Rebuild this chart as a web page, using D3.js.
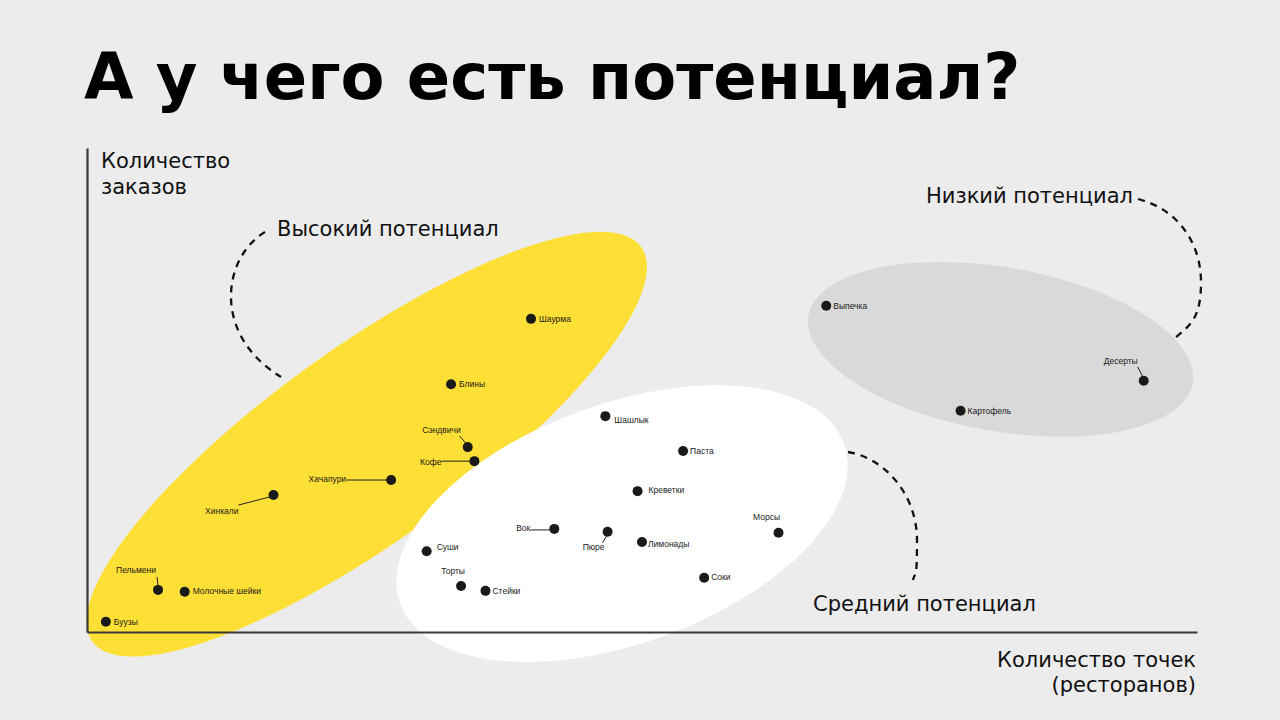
<!DOCTYPE html>
<html><head><meta charset="utf-8">
<script src="https://cdn.jsdelivr.net/npm/d3@7"></script>
<style>
html,body{margin:0;padding:0;background:#ececec;}
svg{display:block;}
</style></head>
<body>
<svg id="chart" width="1280" height="720"></svg>
<script>
// ---- data ----
const items = ["Буузы","Пельмени","Молочные шейки","Хинкали","Хачапури","Кофе","Сэндвичи","Блины","Шаурма",
  "Шашлык","Паста","Креветки","Вок","Пюре","Лимонады","Морсы","Суши","Торты","Стейки","Соки",
  "Выпечка","Картофель","Десерты"];
const restaurants = [1.7,6.4,8.8,16.8,27.4,34.9,34.3,32.8,40.0,
  46.7,53.7,49.6,42.1,46.9,50.0,62.3,30.6,33.7,35.9,55.6,
  66.6,78.7,95.2];
const orders = [2.1,8.7,8.3,28.3,31.4,35.3,38.2,51.2,64.7,
  44.6,37.4,29.1,21.3,20.7,18.6,20.5,16.7,9.5,8.5,11.2,
  67.4,45.7,51.9];
const clusterNames = ["Высокий потенциал","Средний потенциал","Низкий потенциал"];
const clusterCenterX = [25.2,48.2,82.3];
const clusterCenterY = [38.8,22.4,58.4];
const titleText = "А у чего есть потенциал?";
const yAxisLabel = ["Количество","заказов"];
const xAxisLabel = ["Количество точек","(ресторанов)"];

// ---- layout / styling (pixels) ----
const labelLayout = {
  "Буузы":{dx:8,dy:3},
  "Пельмени":{dx:-2,dy:-17,anchor:"end",lead:[-1,-13,0,-4]},
  "Молочные шейки":{dx:8,dy:2},
  "Хинкали":{dx:-35,dy:19,anchor:"end",lead:[-35,10,-4,2]},
  "Хачапури":{dx:-45,dy:2,anchor:"end",lead:[-45,0,-4,0]},
  "Кофе":{dx:-33,dy:4,anchor:"end",lead:[-33,0,-4,0]},
  "Сэндвичи":{dx:-7,dy:-14,anchor:"end",lead:[-8,-11,-2,-4]},
  "Блины":{dx:8,dy:3},
  "Шаурма":{dx:8,dy:3},
  "Шашлык":{dx:9,dy:7},
  "Паста":{dx:7,dy:3},
  "Креветки":{dx:11,dy:2},
  "Вок":{dx:-24,dy:2,anchor:"end",lead:[-24,1,-4,1]},
  "Пюре":{dx:-3,dy:18,anchor:"end",lead:[-5,11,-1,4]},
  "Лимонады":{dx:6,dy:5},
  "Морсы":{dx:-12,dy:-13,anchor:"middle"},
  "Суши":{dx:10,dy:-1},
  "Торты":{dx:-8,dy:-12,anchor:"middle"},
  "Стейки":{dx:7,dy:3},
  "Соки":{dx:7,dy:2},
  "Выпечка":{dx:7,dy:3},
  "Картофель":{dx:7,dy:3},
  "Десерты":{dx:-6,dy:-17,anchor:"end",lead:[-6,-14,-1,-4]}
};
const clusterStyle = [
  {fill:"#fedf35",rx:338,ry:97,angle:-35.7,
   label:{x:277,y:236,anchor:"start"},
   path:"M265,232 C222,258 212,335 281,377"},
  {fill:"#ffffff",rx:236,ry:120,angle:-19.8,
   label:{x:813,y:611,anchor:"start"},
   path:"M848,452 C885,458 917,495 917,540 S915,570 913,580"},
  {fill:"#d9d9d9",rx:195,ry:82,angle:9.9,
   label:{x:1133,y:203,anchor:"end"},
   path:"M1138,199 C1180,210 1201,245 1201,282 S1190,325 1175,338"}
];

const svg = d3.select("#chart");
const x = d3.scaleLinear().domain([0,100]).range([87,1197]);
const y = d3.scaleLinear().domain([0,100]).range([632,148]);

// title
svg.append("text").attr("x",84).attr("y",99)
  .attr("font-family","DejaVu Sans").attr("font-weight","bold").attr("font-size",64)
  .attr("fill","#000").text(titleText);

// clusters (ellipses)
const clusters = clusterNames.map((n,i)=>({name:n,cx:clusterCenterX[i],cy:clusterCenterY[i],st:clusterStyle[i]}));
svg.append("g").selectAll("ellipse").data(clusters).join("ellipse")
  .attr("cx",0).attr("cy",0)
  .attr("rx",d=>d.st.rx).attr("ry",d=>d.st.ry)
  .attr("transform",d=>`translate(${x(d.cx)},${y(d.cy)}) rotate(${d.st.angle})`)
  .attr("fill",d=>d.st.fill);

// axes
const axG = svg.append("g");
axG.append("g").attr("transform",`translate(0,${y(0)})`)
  .call(d3.axisBottom(x).tickValues([]).tickSizeOuter(0));
axG.append("g").attr("transform",`translate(${x(0)},0)`)
  .call(d3.axisLeft(y).tickValues([]).tickSizeOuter(0));
axG.selectAll(".domain").attr("stroke","#3a3a3a").attr("stroke-width",2.2);

const bigFont = {family:"DejaVu Sans",size:21};
svg.append("text").attr("font-family",bigFont.family).attr("font-size",bigFont.size).attr("fill","#111")
  .selectAll("tspan").data(yAxisLabel).join("tspan")
  .attr("x",101).attr("y",(d,i)=>168+i*26).text(d=>d);
svg.append("text").attr("font-family",bigFont.family).attr("font-size",bigFont.size).attr("fill","#111")
  .attr("text-anchor","end")
  .selectAll("tspan").data(xAxisLabel).join("tspan")
  .attr("x",1196).attr("y",(d,i)=>667+i*25).text(d=>d);

// cluster labels + dashed connectors
svg.append("g").selectAll("path").data(clusters).join("path")
  .attr("d",d=>d.st.path).attr("fill","none").attr("stroke","#111")
  .attr("stroke-width",2.3).attr("stroke-dasharray","7,6");
svg.append("g").selectAll("text").data(clusters).join("text")
  .attr("x",d=>d.st.label.x).attr("y",d=>d.st.label.y)
  .attr("text-anchor",d=>d.st.label.anchor)
  .attr("font-family",bigFont.family).attr("font-size",bigFont.size).attr("fill","#111")
  .text(d=>d.name);

// points
const pts = items.map((n,i)=>({name:n,vx:restaurants[i],vy:orders[i],lay:labelLayout[n]}));
const pg = svg.append("g");
pg.selectAll("line").data(pts.filter(d=>d.lay.lead)).join("line")
  .attr("x1",d=>x(d.vx)+d.lay.lead[0]).attr("y1",d=>y(d.vy)+d.lay.lead[1])
  .attr("x2",d=>x(d.vx)+d.lay.lead[2]).attr("y2",d=>y(d.vy)+d.lay.lead[3])
  .attr("stroke","#222").attr("stroke-width",1);
pg.selectAll("circle").data(pts).join("circle")
  .attr("cx",d=>x(d.vx)).attr("cy",d=>y(d.vy)).attr("r",5).attr("fill","#1a1a1a");
pg.selectAll("text").data(pts).join("text")
  .attr("x",d=>x(d.vx)+d.lay.dx).attr("y",d=>y(d.vy)+d.lay.dy)
  .attr("text-anchor",d=>d.lay.anchor||"start")
  .attr("font-family","Liberation Sans, Arial, sans-serif").attr("font-size",8.5).attr("fill","#1a1a1a")
  .text(d=>d.name);
</script>
</body></html>
